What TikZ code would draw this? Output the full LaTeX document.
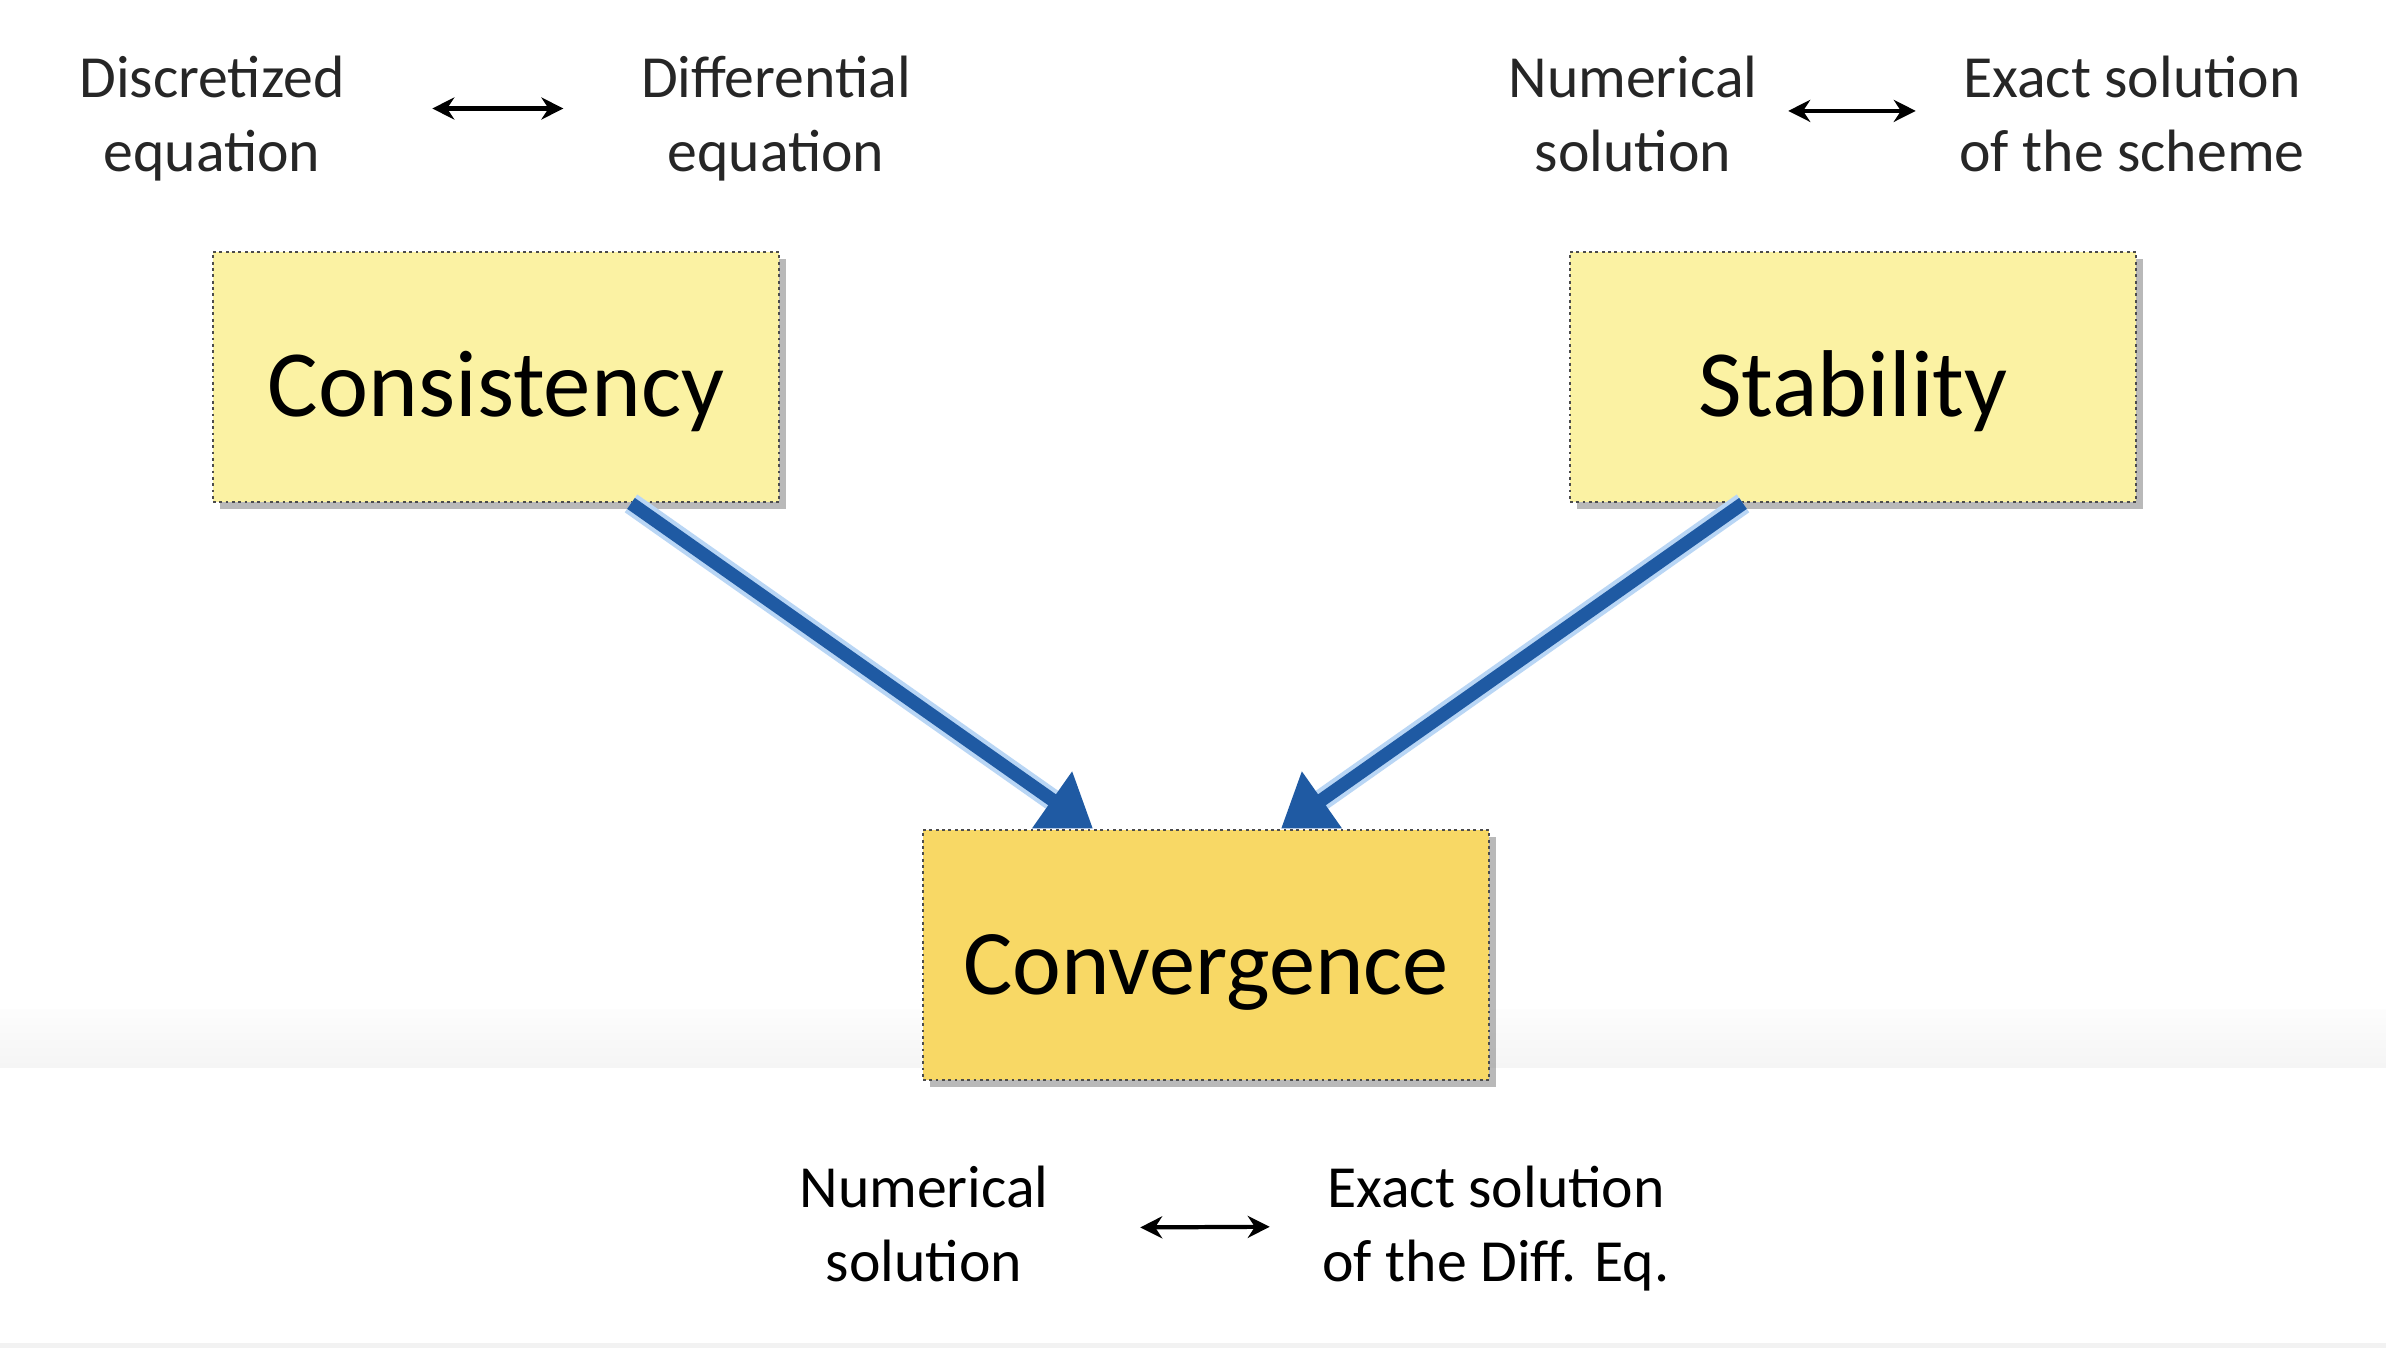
\documentclass[tikz,border=0pt]{standalone}
\usepackage{fontspec}
\setmainfont{Carlito}
\usetikzlibrary{arrows.meta,shadows}

\definecolor{amarilloclaro}{HTML}{FBF2A3}
\definecolor{amarillo}{HTML}{F8D865}
\definecolor{azul}{HTML}{1F5AA3}
\definecolor{azulclaro}{HTML}{B9D6F5}

\begin{document}
\begin{tikzpicture}[
		caja/.style={draw=black!70, densely dotted, line width=0.8pt, minimum width=5.66cm, minimum height=2.5cm,
			font=\fontsize{27}{30}\selectfont, text height=0.8cm, text depth=0pt,
			drop shadow={shadow xshift=0.07cm, shadow yshift=-0.07cm, fill=black!50, opacity=0.55}},
		etiqueta/.style={align=center, inner sep=0pt, anchor=north, text=black!85, font=\fontsize{17}{21.2}\selectfont},
		flecha/.style={draw=azul, line width=3.8pt, -{Triangle[length=0.5cm, width=0.66cm]},
			preaction={draw=azulclaro, line width=6.2pt, -, shorten >=0.4cm}},
		doble/.style={{Stealth[length=0.22cm, width=0.22cm]}-{Stealth[length=0.22cm, width=0.22cm]}, line width=1.2pt}
	]
				\useasboundingbox (0,0) rectangle (23.86,13.48);
				\fill[white] (0,0) rectangle (23.86,13.48);

				% Franja del fondo
				\shade[top color=black!1, bottom color=black!4] (0,2.8) rectangle (23.86,3.38);
				\fill[black!5] (0,0) rectangle (23.86,0.05);

				% Dibujar las cajas
				\node[caja, fill=amarilloclaro] (consistencia) at (4.96,9.71) {Consistency};
				\node[caja, fill=amarilloclaro] (estabilidad) at (18.53,9.71) {Stability};
				\node[caja, fill=amarillo, font=\fontsize{26.3}{30}\selectfont] (convergencia) at (12.06,3.93) {Convergence};

				% Dibujar las flechas
				\draw[flecha] ([xshift=1.35cm]consistencia.south) -- ([xshift=-1.13cm]convergencia.north);
				\draw[flecha] ([xshift=-1.10cm]estabilidad.south) -- ([xshift=0.75cm]convergencia.north);

				% Dibujar etiquetas de arriba
				\node[etiqueta] (discreta) at (2.12,12.93) {Discretized\\equation};
				\node[etiqueta] (diferencial) at (7.76,12.93) {Differential\\equation};
				\node[etiqueta] (numerica) at (16.33,12.93) {Numerical\\solution};
				\node[etiqueta] (exacta) at (21.32,12.93) {Exact solution\\of the scheme};
				\draw[doble, shorten <=0.87cm, shorten >=0.77cm] ([yshift=0.1cm]discreta.east) -- ([yshift=0.1cm]diferencial.west);
				\draw[doble, shorten <=0.30cm, shorten >=0.43cm] ([yshift=0.03cm]numerica.east) -- ([yshift=0.03cm]exacta.west);

				% Dibujar etiquetas de abajo
				\node[etiqueta, text=black] (numerica2) at (9.24,1.83) {Numerical\\solution};
				\node[etiqueta, text=black] (exacta2) at (14.96,1.83) {Exact solution\\of the Diff. Eq.};
				\draw[doble, shorten <=0.91cm, shorten >=0.52cm] ([yshift=-0.04cm]numerica2.east) -- ([yshift=0.02cm]exacta2.west);

			\end{tikzpicture}
\end{document}
